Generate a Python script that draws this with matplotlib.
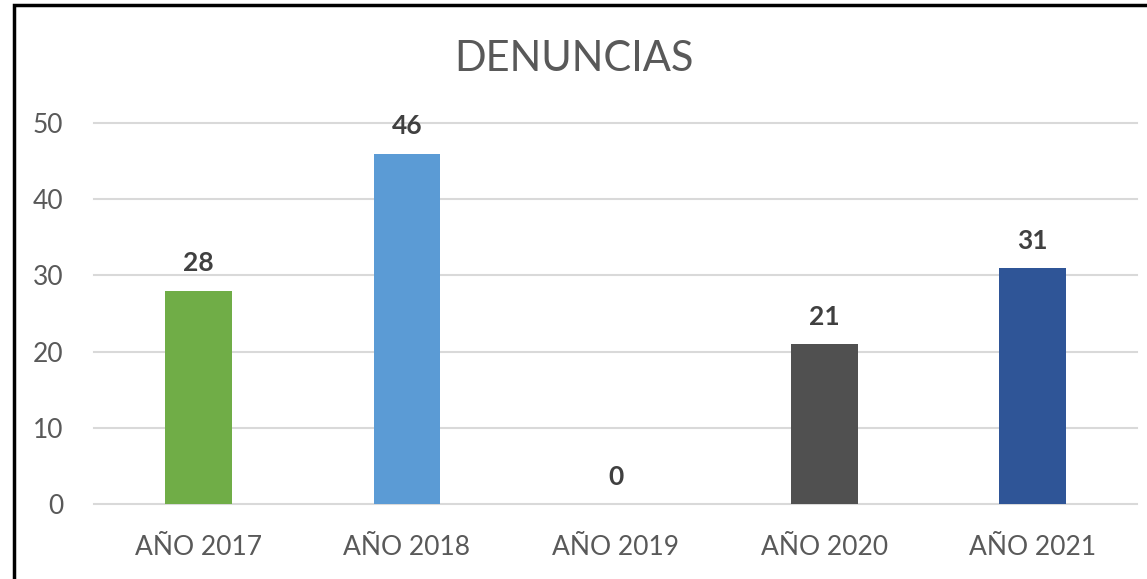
import matplotlib.pyplot as plt
from matplotlib.patches import Rectangle

categories = ["AÑO 2017", "AÑO 2018", "AÑO 2019", "AÑO 2020", "AÑO 2021"]
denuncias = [28, 46, 0, 21, 31]
colors = ["#70AD47", "#5B9BD5", "#A5A5A5", "#505050", "#2F5597"]

plt.rcParams['font.family'] = ['Lato', 'DejaVu Sans']

fig = plt.figure(figsize=(11.47, 5.79), dpi=100)
ax = fig.add_axes([0.082, 0.1295, 0.9093, 0.658])

x = range(len(categories))
bars = ax.bar(x, denuncias, width=0.32, color=colors, zorder=3)

for i, v in enumerate(denuncias):
    ax.text(i, v + 2.0, str(v), ha='center', va='bottom', fontsize=19,
            fontweight='bold', color='#404040')

ax.set_xlim(-0.5, len(categories) - 0.5)
ax.set_ylim(0, 50)
ax.set_yticks(range(0, 51, 10))
ax.set_xticks(list(x))
ax.set_xticklabels(categories)
ax.tick_params(axis='both', length=0, labelsize=19, colors='#595959')
ax.tick_params(axis='x', pad=22)
ax.tick_params(axis='y', pad=22)
ax.yaxis.grid(True, color='#D9D9D9', linewidth=1.5, zorder=0)
for gl in ax.yaxis.get_gridlines():
    gl.set_clip_on(False)
for s in ax.spines.values():
    s.set_visible(False)

fig.text(0.5, 1 - 59 / 579, "DENUNCIAS", ha='center', va='center',
         fontsize=30, color='#595959')

# chart frame
fig.patches.append(Rectangle((14 / 1147, -0.1), 1.2, 1 - 5 / 579 + 0.1,
                             transform=fig.transFigure, fill=False,
                             edgecolor='black', linewidth=2.5))

fig.savefig("out.png", dpi=100)
